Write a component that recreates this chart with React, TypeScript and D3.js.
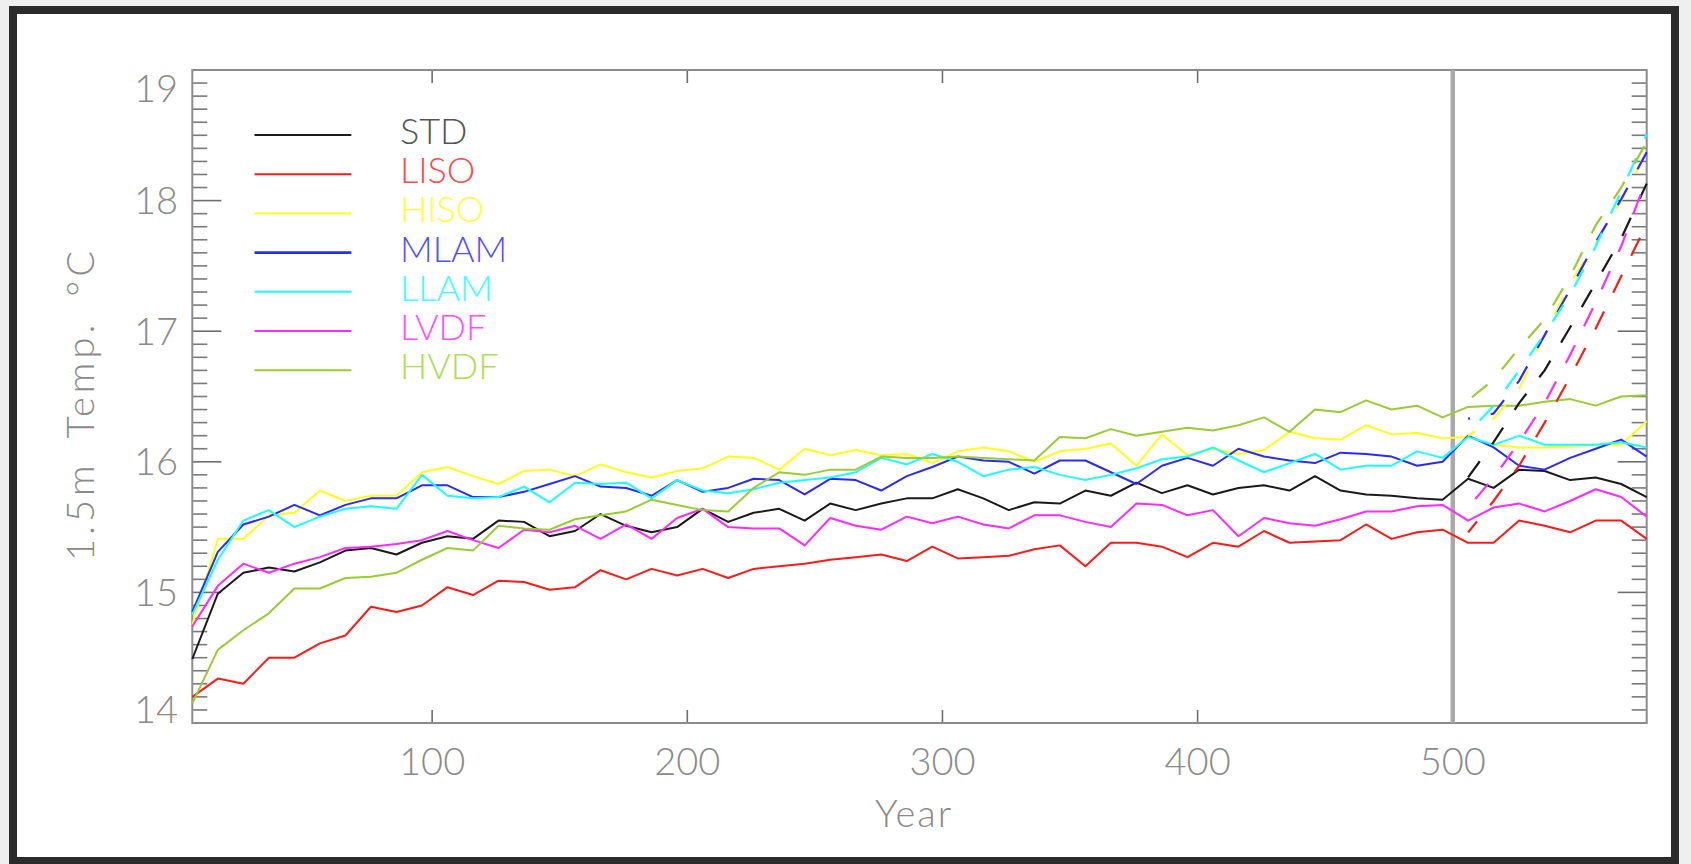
import React from "react";
import * as d3 from "d3";

const W = 1691;
const H = 864;

// x categories (years, one point per decade)
const YEARS = [
  6, 16, 26, 36, 46, 56, 66, 76, 86, 96, 106, 116, 126, 136, 146, 156, 166, 176, 186, 196,
  206, 216, 226, 236, 246, 256, 266, 276, 286, 296, 306, 316, 326, 336, 346, 356, 366, 376, 386, 396,
  406, 416, 426, 436, 446, 456, 466, 476, 486, 496, 506, 516, 526, 536, 546, 556, 566, 576,
];
const FUTURE_YEARS = [506, 516, 526, 536, 546, 556, 566, 576];

const X_TICKS = [100, 200, 300, 400, 500];
const Y_TICKS = [14, 15, 16, 17, 18, 19];

const STD = [
  14.49, 14.99, 15.15, 15.19, 15.16, 15.23, 15.32, 15.34, 15.29, 15.38, 15.43, 15.41,
  15.55, 15.54, 15.43, 15.47, 15.6, 15.51, 15.46, 15.5, 15.64, 15.54, 15.61, 15.64,
  15.55, 15.68, 15.63, 15.68, 15.72, 15.72, 15.79, 15.72, 15.63, 15.69, 15.68,
  15.78, 15.74, 15.84, 15.76, 15.82, 15.75, 15.8, 15.82, 15.78, 15.89, 15.78,
  15.75, 15.74, 15.72, 15.71, 15.87, 15.8, 15.94, 15.93, 15.86, 15.88, 15.83, 15.73,
];
const LISO = [
  14.2, 14.34, 14.3, 14.5, 14.5, 14.61, 14.67, 14.89, 14.85, 14.9, 15.04, 14.98,
  15.09, 15.08, 15.02, 15.04, 15.17, 15.1, 15.18, 15.13, 15.18, 15.11, 15.18, 15.2,
  15.22, 15.25, 15.27, 15.29, 15.24, 15.35, 15.26, 15.27, 15.28, 15.33, 15.36,
  15.2, 15.38, 15.38, 15.35, 15.27, 15.38, 15.35, 15.47, 15.38, 15.39, 15.4,
  15.52, 15.41, 15.46, 15.48, 15.38, 15.38, 15.55, 15.51, 15.46, 15.55, 15.55, 15.41,
];
const HISO = [
  14.75, 15.41, 15.41, 15.59, 15.61, 15.78, 15.7, 15.74, 15.74, 15.92, 15.96, 15.89,
  15.83, 15.93, 15.94, 15.89, 15.98, 15.92, 15.88, 15.93, 15.95, 16.04, 16.03, 15.94,
  16.1, 16.05, 16.09, 16.05, 16.06, 15.99, 16.08, 16.11, 16.08, 16.0, 16.08,
  16.1, 16.14, 15.97, 16.21, 16.05, 16.1, 16.06, 16.09, 16.23, 16.18, 16.17,
  16.28, 16.21, 16.22, 16.18, 16.19, 16.13, 16.11, 16.11, 16.12, 16.13, 16.13, 16.31,
];
const MLAM = [
  14.85, 15.31, 15.52, 15.58, 15.67, 15.59, 15.67, 15.72, 15.72, 15.82, 15.82, 15.73,
  15.73, 15.77, 15.83, 15.89, 15.81, 15.8, 15.74, 15.86, 15.77, 15.8, 15.87, 15.86,
  15.75, 15.87, 15.86, 15.78, 15.89, 15.96, 16.04, 16.01, 16.0, 15.91, 16.01,
  16.01, 15.92, 15.83, 15.97, 16.03, 15.97, 16.1, 16.04, 16.01, 15.99, 16.07,
  16.06, 16.04, 15.97, 16.0, 16.2, 16.11, 15.97, 15.94, 16.03, 16.1, 16.17, 16.04,
];
const LLAM = [
  14.83, 15.25, 15.55, 15.63, 15.5, 15.58, 15.64, 15.66, 15.64, 15.9, 15.74, 15.72,
  15.73, 15.81, 15.69, 15.84, 15.83, 15.84, 15.72, 15.86, 15.78, 15.76, 15.79, 15.84,
  15.86, 15.88, 15.92, 16.03, 15.98, 16.06, 16.0, 15.89, 15.94, 15.96, 15.9,
  15.86, 15.9, 15.95, 16.02, 16.04, 16.11, 16.01, 15.92, 15.99, 16.06, 15.94,
  15.97, 15.97, 16.08, 16.03, 16.19, 16.13, 16.2, 16.13, 16.13, 16.13, 16.15, 16.11,
];
const LVDF = [
  14.74, 15.05, 15.22, 15.15, 15.22, 15.27, 15.34, 15.35, 15.37, 15.4, 15.47, 15.4,
  15.34, 15.48, 15.46, 15.51, 15.41, 15.52, 15.41, 15.57, 15.64, 15.5, 15.49, 15.49,
  15.36, 15.57, 15.51, 15.48, 15.58, 15.53, 15.58, 15.52, 15.49, 15.59, 15.59,
  15.54, 15.5, 15.68, 15.67, 15.59, 15.63, 15.43, 15.57, 15.53, 15.51, 15.56,
  15.62, 15.62, 15.66, 15.67, 15.55, 15.65, 15.68, 15.62, 15.7, 15.79, 15.73, 15.58,
];
const HVDF = [
  14.15, 14.56, 14.71, 14.84, 15.03, 15.03, 15.11, 15.12, 15.15, 15.25, 15.34, 15.32,
  15.51, 15.49, 15.48, 15.56, 15.59, 15.62, 15.71, 15.67, 15.63, 15.62, 15.8, 15.92,
  15.9, 15.94, 15.94, 16.04, 16.03, 16.03, 16.04, 16.03, 16.02, 16.01, 16.19,
  16.18, 16.25, 16.2, 16.23, 16.26, 16.24, 16.28, 16.34, 16.23, 16.4, 16.38,
  16.47, 16.4, 16.43, 16.34, 16.42, 16.43, 16.43, 16.46, 16.48, 16.43, 16.5, 16.51,
];

// dashed continuations after year 500
const STD_FUT = [15.88, 16.15, 16.45, 16.7, 17.03, 17.37, 17.71, 18.13];
const LISO_FUT = [15.46, 15.7, 15.97, 16.3, 16.65, 17.02, 17.42, 17.82];
const HISO_FUT = [16.2, 16.33, 16.56, 16.97, 17.37, 17.67, 18.0, 18.38];
const MLAM_FUT = [16.33, 16.37, 16.62, 16.97, 17.32, 17.68, 18.01, 18.37];
const LLAM_FUT = [16.22, 16.43, 16.7, 16.98, 17.28, 17.65, 18.07, 18.51];
const LVDF_FUT = [15.65, 15.88, 16.15, 16.45, 16.82, 17.22, 17.65, 18.17];
const HVDF_FUT = [16.47, 16.63, 16.87, 17.09, 17.42, 17.81, 18.1, 18.45];

const NAMES = ["STD", "LISO", "HISO", "MLAM", "LLAM", "LVDF", "HVDF"];
const COLORS = ["#1a1a1a", "#ff1a1a", "#ffff1a", "#2a2aff", "#1affff", "#ff2aff", "#99cc33"];
const LABEL_COLORS = ["#555555", "#ff4a4a", "#ffff40", "#5050ff", "#40ffff", "#ff50ff", "#addc55"];
const SOLID = [STD, LISO, HISO, MLAM, LLAM, LVDF, HVDF];
const FUTURE = [STD_FUT, LISO_FUT, HISO_FUT, MLAM_FUT, LLAM_FUT, LVDF_FUT, HVDF_FUT];

const PLOT = { left: 192.3, right: 1646.7, top: 70, bottom: 723 };
const FONT = "Lato, 'DejaVu Sans', sans-serif";
const AXIS_GRAY = "#8c8c8c";
const TEXT_GRAY = "#8a8a8a";

export default function App() {
  const x = d3.scaleLinear().domain([6, 576]).range([PLOT.left, PLOT.right]);
  const y = d3.scaleLinear().domain([14, 19]).range([PLOT.bottom, PLOT.top]);
  const line = d3
    .line<[number, number]>()
    .x((d) => x(d[0]))
    .y((d) => y(d[1]));

  const minor = d3.range(140, 191, 1).map((v) => v / 10).filter((v) => Math.abs(v - Math.round(v)) > 1e-6);

  const legendY0 = 135;
  const legendStep = 39.2;

  return (
    <svg
      width={W}
      height={H}
      style={{ position: "absolute", left: 0, top: 0, display: "block" }}
      xmlns="http://www.w3.org/2000/svg"
    >
      <style>{`body{margin:0;overflow:hidden;}`}</style>
      <rect x={0} y={0} width={W} height={H} fill="#efefef" />
      <rect x={13} y={10} width={1662} height={851} fill="#ffffff" stroke="#2b2b2b" strokeWidth={8} />

      {/* y minor ticks */}
      {minor.map((v) => (
        <g key={`m${v}`}>
          <line x1={PLOT.left} x2={PLOT.left + 15} y1={y(v)} y2={y(v)} stroke="#7a7a7a" strokeWidth={1.6} />
          <line x1={PLOT.right} x2={PLOT.right - 15} y1={y(v)} y2={y(v)} stroke="#7a7a7a" strokeWidth={1.6} />
        </g>
      ))}
      {/* y major ticks */}
      {Y_TICKS.map((v) => (
        <g key={`M${v}`}>
          <line x1={PLOT.left} x2={PLOT.left + 29} y1={y(v)} y2={y(v)} stroke="#6e6e6e" strokeWidth={1.6} />
          <line x1={PLOT.right} x2={PLOT.right - 29} y1={y(v)} y2={y(v)} stroke="#6e6e6e" strokeWidth={1.6} />
        </g>
      ))}
      {/* x ticks */}
      {X_TICKS.map((v) => (
        <g key={`x${v}`}>
          <line x1={x(v)} x2={x(v)} y1={PLOT.bottom} y2={PLOT.bottom - 13} stroke="#6e6e6e" strokeWidth={1.6} />
          <line x1={x(v)} x2={x(v)} y1={PLOT.top} y2={PLOT.top + 13} stroke="#6e6e6e" strokeWidth={1.6} />
        </g>
      ))}

      {/* axes box */}
      <rect
        x={PLOT.left}
        y={PLOT.top}
        width={PLOT.right - PLOT.left}
        height={PLOT.bottom - PLOT.top}
        fill="none"
        stroke={AXIS_GRAY}
        strokeWidth={2}
      />

      {/* vertical marker at year 500 */}
      <line x1={x(500)} x2={x(500)} y1={PLOT.top} y2={PLOT.bottom} stroke="#a9a9a9" strokeWidth={4.5} />

      {/* solid series */}
      {SOLID.map((vals, k) => (
        <path
          key={`s${k}`}
          d={line(YEARS.map((yr, i) => [yr, vals[i]] as [number, number])) || ""}
          fill="none"
          stroke={COLORS[k]}
          strokeWidth={2}
          strokeLinejoin="round"
        />
      ))}
      {/* dashed continuations */}
      {FUTURE.map((vals, k) => (
        <path
          key={`f${k}`}
          d={line(FUTURE_YEARS.map((yr, i) => [yr, vals[i]] as [number, number])) || ""}
          fill="none"
          stroke={COLORS[k]}
          strokeWidth={2.2}
          strokeDasharray="20 21"
          strokeDashoffset={k * 6}
        />
      ))}

      {/* legend */}
      {NAMES.map((n, k) => {
        const ly = legendY0 + k * legendStep;
        return (
          <g key={`l${n}`}>
            <line x1={254.5} x2={351.3} y1={ly} y2={ly} stroke={COLORS[k]} strokeWidth={k === 3 ? 2.6 : 2} />
            <text x={400} y={ly + 9} fontFamily={FONT} fontWeight={300} fontSize={36} fill={LABEL_COLORS[k]}>
              {n}
            </text>
          </g>
        );
      })}

      {/* x tick labels */}
      {X_TICKS.map((v) => (
        <text
          key={`xl${v}`}
          x={x(v)}
          y={775}
          textAnchor="middle"
          fontFamily={FONT}
          fontWeight={300}
          fontSize={38}
          fill={TEXT_GRAY}
        >
          {v}
        </text>
      ))}
      {/* y tick labels */}
      {Y_TICKS.map((v) => {
        let by = y(v) + 13.5;
        if (v === 19) by = 102;
        if (v === 14) by = 723;
        return (
          <text
            key={`yl${v}`}
            x={178}
            y={by}
            textAnchor="end"
            fontFamily={FONT}
            fontWeight={300}
            fontSize={38}
            fill={TEXT_GRAY}
          >
            {v}
          </text>
        );
      })}

      {/* axis titles */}
      <text
        x={914}
        y={827}
        textAnchor="middle"
        fontFamily={FONT}
        fontWeight={300}
        fontSize={38}
        letterSpacing={2}
        fill={TEXT_GRAY}
      >
        Year
      </text>
      <text
        transform={`translate(94, 404) rotate(-90)`}
        textAnchor="middle"
        fontFamily={FONT}
        fontWeight={300}
        fontSize={38}
        letterSpacing={4}
        wordSpacing={10}
        fill={TEXT_GRAY}
      >
        1.5m Temp. °C
      </text>
    </svg>
  );
}
